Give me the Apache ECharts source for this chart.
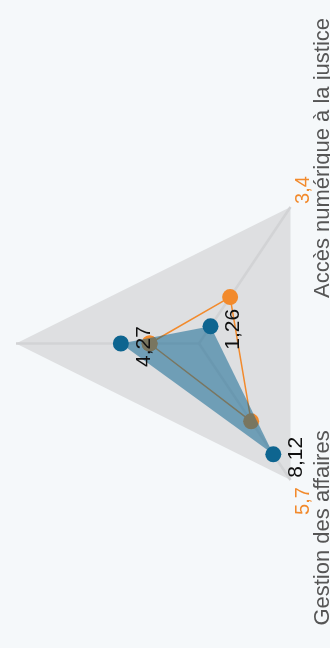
<!DOCTYPE html>
<html><head><meta charset="utf-8">
<script src="https://cdn.jsdelivr.net/npm/echarts@6/dist/echarts.min.js"></script>
<style>html,body{margin:0;padding:0;background:#f5f8fa;}#c{width:330px;height:648px;}</style>
</head><body><div id="c"></div>
<script>
// ---- data ----
const indicators = ['', 'Accès numérique à la justice', 'Gestion des affaires'];
const indicatorMax = [10, 10, 10];
const blueValues = [4.27, 1.26, 8.12];
const blueLabels = ['4,27', '1,26', '8,12'];
const orangeValues = [2.7, 3.4, 5.7];
const orangeLabels = ['', '3,4', '5,7'];

// ---- layout (radar drawn sideways) ----
const axisAngles = [180, 60, -60];
function toXY(v, i) {
  const a = axisAngles[i] * Math.PI / 180;
  const r = v / indicatorMax[i];
  return [r * Math.cos(a), r * Math.sin(a)];
}
const FONT = 'Liberation Sans, Arial, sans-serif';
const BLUE = '#0e6590', ORANGE = '#f28a2c';

const chart = echarts.init(document.getElementById('c'), null, {renderer: 'canvas'});
const gridRender = function (params, api) {
  const c = api.coord([0, 0]);
  const pts = indicators.map((_, i) => api.coord(toXY(indicatorMax[i], i)));
  const children = [{type: 'polygon', shape: {points: pts}, style: {fill: '#dedfe1'}}];
  pts.forEach(p => children.push({type: 'line', shape: {x1: c[0], y1: c[1], x2: p[0], y2: p[1]}, style: {stroke: '#d2d3d5', lineWidth: 2.5}}));
  const nameOff = [null, [32, -49], [32, 48]];
  const valOff = [null, [13, -17], [13, 21]];
  indicators.forEach((name, i) => {
    if (!nameOff[i]) return;
    const p = pts[i];
    children.push({type: 'text', x: p[0] + nameOff[i][0], y: p[1] + nameOff[i][1], rotation: Math.PI / 2,
      style: {text: name, fontSize: 22, fontFamily: FONT, fill: '#555555', align: 'center', verticalAlign: 'middle'}});
    if (orangeLabels[i]) children.push({type: 'text', x: p[0] + valOff[i][0], y: p[1] + valOff[i][1], rotation: Math.PI / 2,
      style: {text: orangeLabels[i], fontSize: 20, fontFamily: FONT, fill: ORANGE, align: 'center', verticalAlign: 'middle'}});
  });
  return {type: 'group', children};
};
const blueAreaRender = function (params, api) {
  const pts = blueValues.map((v, i) => api.coord(toXY(v, i)));
  return {type: 'polygon', shape: {points: pts}, style: {fill: BLUE, opacity: 0.53}};
};
const bluePointRender = function (params, api) {
  const i = params.dataIndex;
  const p = api.coord([api.value(0), api.value(1)]);
  return {type: 'group', children: [
    {type: 'circle', shape: {cx: p[0], cy: p[1], r: 8}, style: {fill: BLUE}},
    {type: 'text', x: p[0] + 23, y: p[1] + 3, rotation: Math.PI / 2,
      style: {text: blueLabels[i], fontSize: 21, fontFamily: FONT, fill: '#111111', align: 'center', verticalAlign: 'middle'}}
  ]};
};

const orangeData = orangeValues.map((v, i) => toXY(v, i));
orangeData.push(orangeData[0]);

chart.setOption({
  backgroundColor: '#f5f8fa',
  animation: false,
  grid: {left: 0, right: 0, top: 0, bottom: 0, containLabel: false},
  xAxis: {type: 'value', min: -199 / 183, max: 131 / 183, show: false},
  yAxis: {type: 'value', min: -(648 - 343.5) / 157.6, max: 343.5 / 157.6, show: false},
  series: [
    {type: 'custom', z: 1, renderItem: gridRender, data: [[0, 0]], silent: true, clip: false},
    {type: 'line', z: 2, data: orangeData, symbol: 'circle', symbolSize: 16, showAllSymbol: true,
      itemStyle: {color: ORANGE}, lineStyle: {color: ORANGE, width: 1.5}, silent: true},
    {type: 'custom', z: 3, renderItem: blueAreaRender, data: [[0, 0]], silent: true, clip: false},
    {type: 'custom', z: 4, renderItem: bluePointRender, data: blueValues.map((v, i) => toXY(v, i)), silent: true, clip: false}
  ]
});
</script></body></html>
